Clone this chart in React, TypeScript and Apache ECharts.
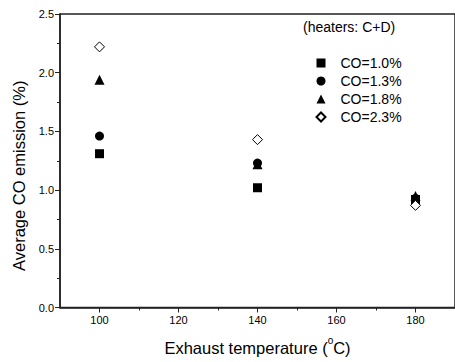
import React, { useEffect, useRef } from "react";
import * as echarts from "echarts";

const temperatures = [100, 140, 180];
const co10 = [1.31, 1.02, 0.92];
const co13 = [1.46, 1.23, 0.93];
const co18 = [1.94, 1.22, 0.95];
const co23 = [2.22, 1.43, 0.87];
const seriesNames = ["CO=1.0%", "CO=1.3%", "CO=1.8%", "CO=2.3%"];
const xMajorTicks = [100, 120, 140, 160, 180];
const xMinorTicks = [110, 130, 150, 170];

const FONT = "'Liberation Sans', Arial, sans-serif";

export default function App() {
  const ref = useRef<HTMLDivElement>(null);
  useEffect(() => {
    document.body.style.margin = "0";
    const chart = echarts.init(ref.current!, null, { renderer: "svg" });
    const pair = (ys: number[]) => temperatures.map((t, i) => [t, ys[i]]);
    const axisLine = { lineStyle: { color: "#222", width: 1.5 } };
    chart.setOption({
      animation: false,
      backgroundColor: "#fff",
      textStyle: { fontFamily: FONT, color: "#000" },
      title: {
        text: "(heaters: C+D)",
        left: 303,
        top: 20,
        padding: 0,
        textStyle: { fontFamily: FONT, fontSize: 14, fontWeight: "normal", color: "#000" },
      },
      legend: {
        orient: "vertical",
        left: 315.5,
        top: 56,
        padding: 0,
        itemWidth: 9,
        itemHeight: 9,
        itemGap: 4,
        symbolKeepAspect: true,
        data: seriesNames,
        textStyle: { fontFamily: FONT, fontSize: 14, color: "#000", padding: [0, 0, 0, 10] },
      },
      grid: {
        left: 60,
        top: 14,
        width: 396,
        height: 293.5,
        show: true,
        borderColor: "#222",
        borderWidth: 1.5,
        backgroundColor: "transparent",
      },
      xAxis: [
        {
          type: "value",
          min: 90,
          max: 190,
          position: "bottom",
          axisLine,
          splitLine: { show: false },
          axisTick: { show: true, length: 5, customValues: xMajorTicks, lineStyle: { color: "#222", width: 1 } },
          axisLabel: { customValues: xMajorTicks, fontSize: 11, color: "#000", margin: 7, fontFamily: FONT },
          name: "{n|Exhaust temperature (}{sup|o}{n|C)}",
          nameLocation: "middle",
          nameGap: 28,
          nameTextStyle: {
            fontSize: 16.5,
            fontFamily: FONT,
            color: "#000",
            rich: {
              n: { fontSize: 16.5, lineHeight: 21, verticalAlign: "bottom", fontFamily: FONT, color: "#000" },
              sup: { fontSize: 10, lineHeight: 10, verticalAlign: "top", fontFamily: FONT, color: "#000" },
            },
          },
        },
        {
          type: "value",
          min: 90,
          max: 190,
          position: "bottom",
          axisLine: { show: false },
          splitLine: { show: false },
          axisTick: { show: true, length: 3, customValues: xMinorTicks, lineStyle: { color: "#222", width: 1 } },
          axisLabel: { show: false },
        },
      ],
      yAxis: {
        type: "value",
        min: 0,
        max: 2.5,
        interval: 0.5,
        axisLine: { show: true, ...axisLine },
        splitLine: { show: false },
        axisTick: { show: true, length: 5, lineStyle: { color: "#222", width: 1 } },
        minorTick: { show: true, splitNumber: 2, length: 3, lineStyle: { color: "#222", width: 1 } },
        axisLabel: {
          fontSize: 11,
          color: "#000",
          margin: 6,
          fontFamily: FONT,
          formatter: (v: number) => v.toFixed(1),
        },
        name: "Average CO emission (%)",
        nameLocation: "middle",
        nameGap: 33,
        nameTextStyle: { fontSize: 16.5, fontFamily: FONT, color: "#000", padding: [0, 30, 0, 0] },
      },
      series: [
        {
          name: seriesNames[0],
          type: "scatter",
          symbol: "rect",
          symbolSize: 9,
          itemStyle: { color: "#000", opacity: 1 },
          data: pair(co10),
        },
        {
          name: seriesNames[1],
          type: "scatter",
          symbol: "circle",
          symbolSize: 9,
          itemStyle: { color: "#000", opacity: 1 },
          data: pair(co13),
        },
        {
          name: seriesNames[2],
          type: "scatter",
          symbol: "triangle",
          symbolSize: 10,
          itemStyle: { color: "#000", opacity: 1 },
          data: pair(co18),
        },
        {
          name: seriesNames[3],
          type: "scatter",
          symbol: "diamond",
          symbolSize: 10,
          itemStyle: { color: "#fff", borderColor: "#000", borderWidth: 1, opacity: 1 },
          data: pair(co23),
        },
      ],
    });
    return () => chart.dispose();
  }, []);
  return <div ref={ref} style={{ width: 455, height: 362 }} />;
}
